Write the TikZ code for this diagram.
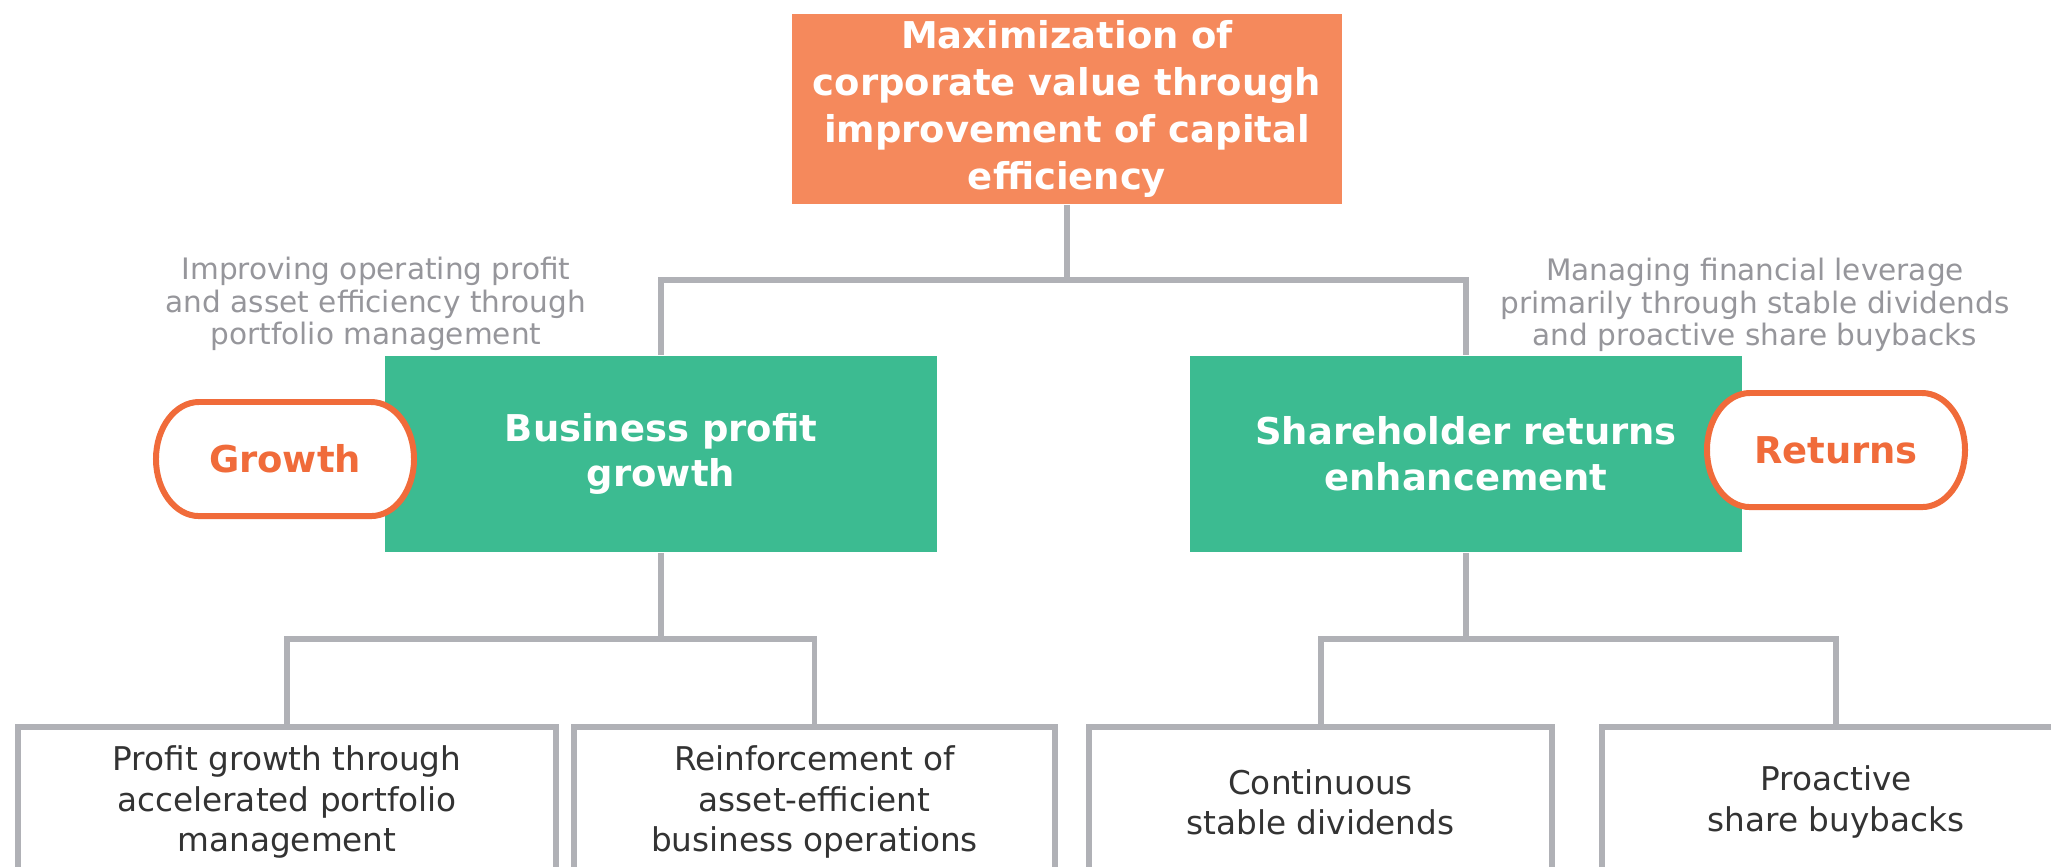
\documentclass[tikz,border=0pt]{standalone}
\usepackage{fontspec}
\setmainfont{DejaVu Sans}
\usepackage{tikz}
\usepackage{xcolor}
\definecolor{topfill}{RGB}{245,137,92}
\definecolor{mainfill}{RGB}{60,187,145}
\definecolor{tagline}{RGB}{240,107,58}
\definecolor{linkgray}{RGB}{176,177,182}
\definecolor{notegray}{RGB}{150,150,155}
\definecolor{leaftext}{RGB}{51,51,51}

\begin{document}
\begin{tikzpicture}[x=0.01cm,y=-0.01cm,
link/.style={draw=linkgray,line width=1.7pt},
goal/.style={rectangle,fill=topfill,text=white,align=center,inner sep=0pt,
  font=\bfseries\fontsize{10.5}{13.4}\selectfont,minimum width=5.49cm,minimum height=1.9cm},
pillar/.style={rectangle,fill=mainfill,text=white,align=center,inner sep=0pt,
  font=\bfseries\fontsize{10.5}{13}\selectfont,minimum width=5.52cm,minimum height=1.96cm},
tagedge/.style={draw=tagline,line width=1.7pt,fill=white},
tag/.style={text=tagline,inner sep=0pt,font=\bfseries\fontsize{10.5}{13}\selectfont},
note/.style={text=notegray,align=center,inner sep=0pt,font=\fontsize{8.4}{9.3}\selectfont},
leaf/.style={rectangle,draw=linkgray,line width=1.7pt,fill=white,text=leaftext,
  align=center,inner sep=0pt,font=\fontsize{9.3}{11.4}\selectfont,minimum height=1.5cm}]
\useasboundingbox (0,0) rectangle (2051,867);
\clip (0,0) rectangle (2051,867);
% top
\node (goal) at (1067,109) [goal] {Maximization of\\corporate value through\\improvement of capital\\efficiency};
\coordinate (jtop) at (1067,280);
% two pillars
\node (growth) at (661,454) [pillar] {Business profit\\growth};
\node (returns) at (1466,454) [pillar] {Shareholder returns\\enhancement};
\node (growthnote) at (376,304) [note] {Improving operating profit\\and asset efficiency through\\portfolio management};
\node (returnsnote) at (1755,305) [note] {Managing financial leverage\\primarily through stable dividends\\and proactive share buybacks};
\draw[link] (goal.south) -- (jtop);
\draw[link] (growth.north) |- (jtop) -| (returns.north);
% pills
\draw[tagedge] (285,459) ++(-86,-57) -- ++(172,0)
  arc[start angle=90,end angle=-90,x radius=0.43cm,y radius=0.57cm] -- ++(-172,0)
  arc[start angle=270,end angle=90,x radius=0.43cm,y radius=0.57cm] -- cycle;
\node (growthtag) at (285,459) [tag] {Growth};
\draw[tagedge] (1836,450) ++(-86,-57) -- ++(172,0)
  arc[start angle=90,end angle=-90,x radius=0.43cm,y radius=0.57cm] -- ++(-172,0)
  arc[start angle=270,end angle=90,x radius=0.43cm,y radius=0.57cm] -- cycle;
\node (returnstag) at (1836,450) [tag] {Returns};
% leaves
\coordinate (jgrowth) at (661,639);
\coordinate (jreturns) at (1466,639);
\node (portfolio) at (287,802) [leaf,minimum width=5.37cm] {Profit growth through\\accelerated portfolio\\management};
\node (assets) at (814.5,802) [leaf,minimum width=4.81cm] {Reinforcement of\\asset-efficient\\business operations};
\node (dividends) at (1320.5,802) [leaf,minimum width=4.63cm] {Continuous\\stable dividends};
\node (buybacks) at (1836,802) [leaf,minimum width=4.68cm] {Proactive\\share buybacks};
\draw[link] (growth.south) -- (jgrowth);
\draw[link] (portfolio.north) |- (jgrowth) -| (assets.north);
\draw[link] (returns.south) -- (jreturns);
\draw[link] (dividends.north) |- (jreturns) -| (buybacks.north);
\end{tikzpicture}
\end{document}
